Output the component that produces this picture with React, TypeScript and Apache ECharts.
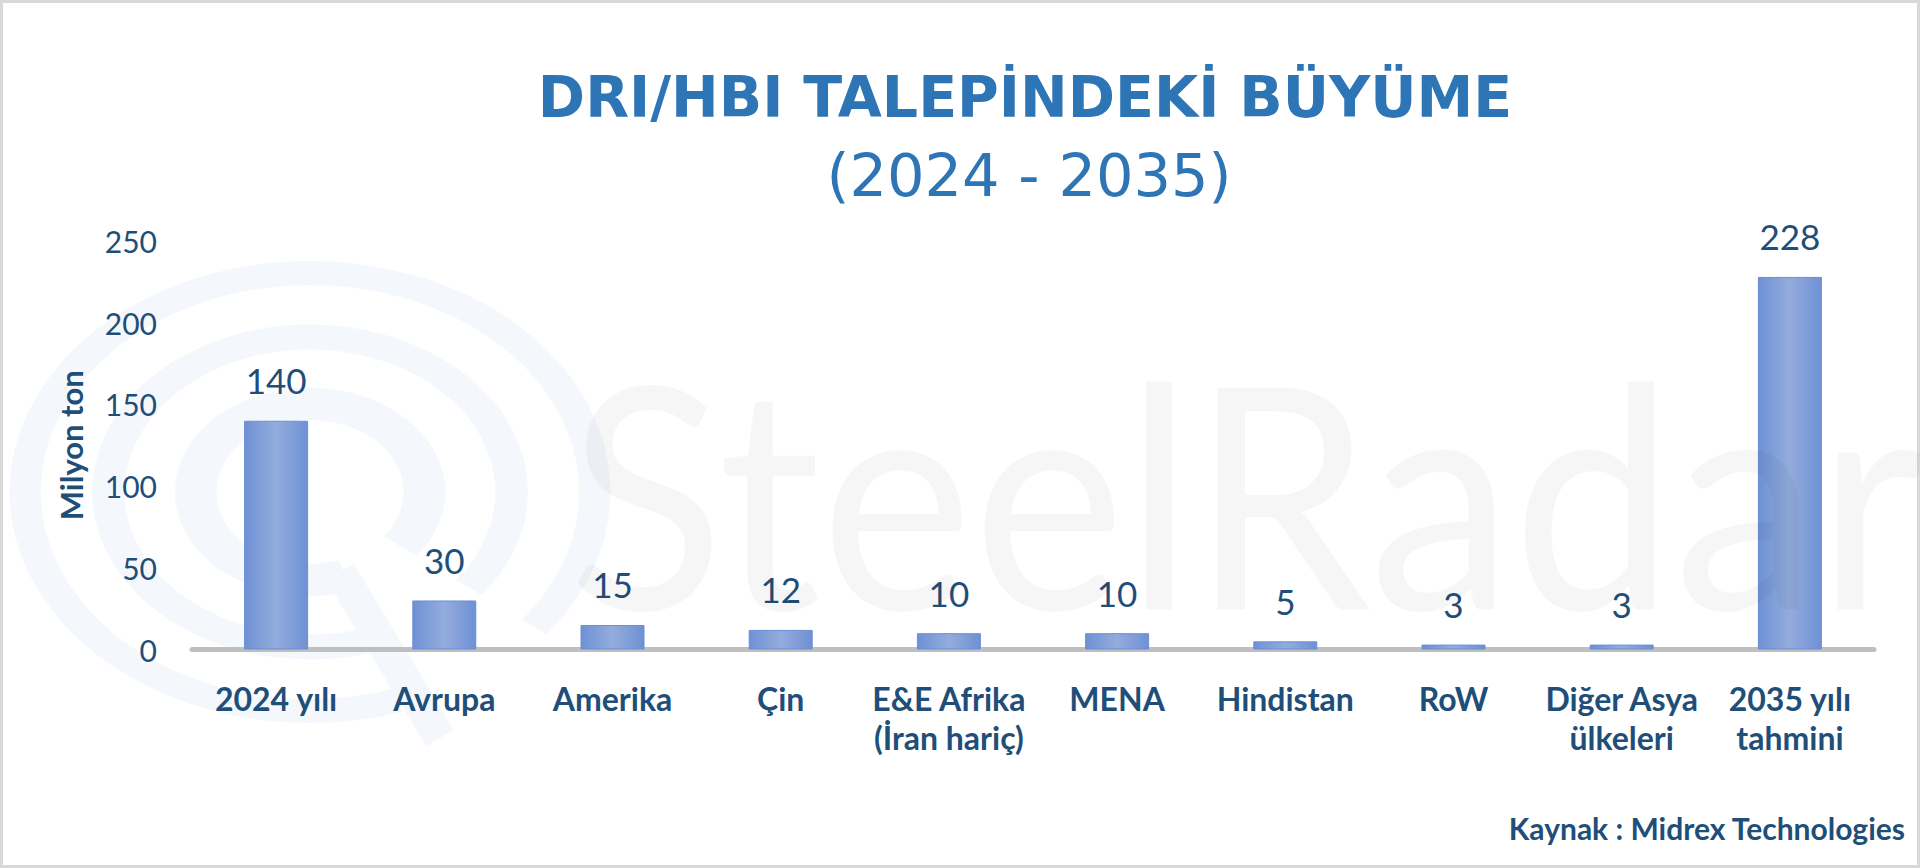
import React, { useEffect, useRef } from "react";
import * as echarts from "echarts";

const titleText = "DRI/HBI TALEPİNDEKİ BÜYÜME";
const subtitleText = "(2024 - 2035)";
const sourceText = "Kaynak : Midrex Technologies";
const watermarkText = "SteelRadar";
const yAxisName = "Milyon ton";
const categories = [
  "2024 yılı",
  "Avrupa",
  "Amerika",
  "Çin",
  "E&E Afrika\n(İran hariç)",
  "MENA",
  "Hindistan",
  "RoW",
  "Diğer Asya\nülkeleri",
  "2035 yılı\ntahmini",
];
const values = [140, 30, 15, 12, 10, 10, 5, 3, 3, 228];
const yMin = 0;
const yMax = 250;
const yInterval = 50;

const NAVY = "#1f4e79";
const TITLE_BLUE = "#2e75b6";

export default function App() {
  const ref = useRef<HTMLDivElement>(null);
  useEffect(() => {
    if (!ref.current) return;
    const chart = echarts.init(ref.current, null, { renderer: "svg" });
    const ringColor = "#f4f7fc";
    const ringCx = 310;
    const ringCy = 492;
    const gapStart = (38 * Math.PI) / 180;
    const gapEnd = (72 * Math.PI) / 180;
    const rings = [
      { r: 219, w: 24 },
      { r: 155, w: 25 },
      { r: 88, w: 32 },
    ];
    chart.setOption({
      animation: false,
      backgroundColor: "#ffffff",
      title: [
        {
          text: titleText,
          left: 1020,
          top: 63,
          textAlign: "center",
          textStyle: {
            fontFamily: "DejaVu Sans",
            fontWeight: "bold",
            fontSize: 57,
            color: TITLE_BLUE,
          },
        },
        {
          text: subtitleText,
          left: 1024,
          top: 141,
          textAlign: "center",
          textStyle: {
            fontFamily: "DejaVu Sans",
            fontWeight: "normal",
            fontSize: 59,
            color: TITLE_BLUE,
          },
        },
      ],
      graphic: [
        {
          type: "rect",
          z: 0,
          silent: true,
          shape: { x: 1.5, y: 1.5, width: 1917, height: 865 },
          style: { fill: "none", stroke: "#d9d9d9", lineWidth: 3 },
        },
        {
          type: "group",
          x: ringCx,
          y: ringCy,
          scaleX: 1.3,
          z: 0,
          silent: true,
          children: [
            ...rings.map((rg) => ({
              type: "arc",
              shape: {
                cx: 0,
                cy: 0,
                r: rg.r,
                startAngle: gapEnd,
                endAngle: gapStart + Math.PI * 2,
                clockwise: true,
              },
              style: { stroke: ringColor, lineWidth: rg.w, fill: "none" },
            })),
          ],
        },
        {
          type: "line",
          z: 0,
          silent: true,
          shape: { x1: 340, y1: 572, x2: 440, y2: 738 },
          style: { stroke: ringColor, lineWidth: 32 },
        },
        {
          type: "text",
          z: 50,
          silent: true,
          x: 568,
          y: 490,
          scaleX: 0.93,
          style: {
            text: watermarkText,
            fontFamily: "Lato",
            fontWeight: "normal",
            fontSize: 310,
            fill: "rgba(0,0,0,0.035)",
            verticalAlign: "middle",
            align: "left",
          },
        },
        {
          type: "text",
          z: 10,
          x: 1905,
          y: 828,
          style: {
            text: sourceText,
            fontFamily: "Lato",
            fontWeight: "bold",
            fontSize: 30,
            fill: NAVY,
            align: "right",
            verticalAlign: "middle",
          },
        },
      ],
      grid: {
        left: 192,
        width: 1682,
        top: 241,
        height: 408.5,
        containLabel: false,
      },
      xAxis: {
        type: "category",
        data: categories,
        offset: 3,
        axisLine: { show: true, lineStyle: { color: "#bfbfbf", width: 5 } },
        axisTick: { show: false },
        axisLabel: {
          interval: 0,
          margin: 26,
          fontFamily: "Lato",
          fontWeight: "bold",
          fontSize: 32,
          lineHeight: 39,
          color: NAVY,
        },
      },
      yAxis: {
        type: "value",
        min: yMin,
        max: yMax,
        interval: yInterval,
        name: yAxisName,
        nameLocation: "middle",
        nameGap: 106,
        nameTextStyle: {
          fontFamily: "Lato",
          fontWeight: "bold",
          fontSize: 31,
          color: NAVY,
        },
        axisLine: { show: false },
        axisTick: { show: false },
        splitLine: { show: false },
        axisLabel: {
          margin: 35,
          fontFamily: "Lato",
          fontSize: 30,
          color: NAVY,
        },
      },
      series: [
        {
          type: "bar",
          data: values,
          barWidth: 64,
          itemStyle: {
            color: {
              type: "linear",
              x: 0,
              y: 0,
              x2: 1,
              y2: 0,
              colorStops: [
                { offset: 0, color: "#6e91d5" },
                { offset: 0.5, color: "#93acdc" },
                { offset: 1, color: "#6e91d5" },
              ],
            },
            borderColor: "#6b8fd6",
            borderWidth: 1,
          },
          label: {
            show: true,
            position: "top",
            distance: 23,
            fontFamily: "Lato",
            fontSize: 35,
            color: NAVY,
          },
        },
      ],
    });
    return () => chart.dispose();
  }, []);
  return (
    <div
      ref={ref}
      style={{ position: "fixed", left: 0, top: 0, width: 1920, height: 868 }}
    />
  );
}
